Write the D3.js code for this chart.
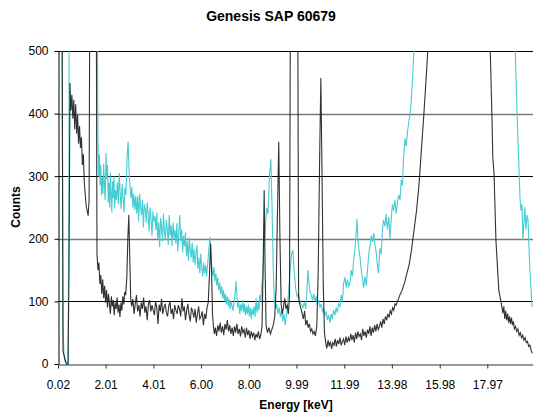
<!DOCTYPE html>
<html><head><meta charset="utf-8">
<script src="https://cdn.jsdelivr.net/npm/d3@7"></script>
<style>
body{margin:0;background:#fff}
text{font-family:"Liberation Sans",Arial,sans-serif}
</style>
</head><body>
<svg id="chart" width="533" height="412"></svg>
<script>
const chartTitle = "Genesis SAP 60679";
const xAxisTitle = "Energy [keV]";
const yAxisTitle = "Counts";
const xTickValues = [0.02, 2.01, 4.01, 6.00, 8.00, 9.99, 11.99, 13.98, 15.98, 17.97];
const xTickLabels = ["0.02", "2.01", "4.01", "6.00", "8.00", "9.99", "11.99", "13.98", "15.98", "17.97"];
const yTickValues = [0, 100, 200, 300, 400, 500];
const gridValues = [100, 200, 300, 400, 500];

const blackEnergy = [
0.02,0.14,0.19,0.23,0.27,0.31,0.36,0.40,0.44,0.48,
0.52,0.56,0.60,0.64,0.68,0.72,0.76,0.80,0.84,0.88,
0.92,0.96,1.00,1.04,1.08,1.12,1.16,1.20,1.24,1.28,
1.32,1.36,1.40,1.50,1.58,1.62,1.65,1.69,1.73,1.77,
1.81,1.85,1.89,1.93,1.97,2.01,2.05,2.09,2.13,2.17,
2.21,2.25,2.29,2.33,2.37,2.41,2.45,2.49,2.53,2.57,
2.61,2.65,2.69,2.73,2.77,2.81,2.85,2.90,2.94,2.98,
3.02,3.06,3.10,3.15,3.20,3.25,3.30,3.35,3.40,3.45,
3.50,3.55,3.60,3.65,3.70,3.75,3.80,3.85,3.90,3.95,
4.00,4.05,4.10,4.15,4.20,4.25,4.30,4.35,4.40,4.45,
4.50,4.55,4.60,4.65,4.70,4.75,4.80,4.85,4.90,4.95,
5.00,5.05,5.10,5.15,5.20,5.25,5.30,5.35,5.40,5.45,
5.50,5.55,5.60,5.65,5.70,5.75,5.80,5.85,5.90,5.95,
6.00,6.05,6.10,6.15,6.20,6.25,6.30,6.35,6.40,6.44,
6.48,6.52,6.56,6.60,6.65,6.70,6.75,6.80,6.85,6.90,
6.95,7.00,7.05,7.10,7.15,7.20,7.25,7.30,7.35,7.40,
7.45,7.50,7.55,7.60,7.65,7.70,7.75,7.80,7.85,7.90,
7.95,8.00,8.05,8.10,8.15,8.20,8.25,8.30,8.35,8.40,
8.45,8.50,8.55,8.60,8.64,8.68,8.72,8.78,8.84,8.90,
8.96,9.02,9.08,9.14,9.20,9.25,9.30,9.35,9.40,9.45,
9.50,9.55,9.60,9.65,9.70,9.76,9.90,10.02,10.08,10.13,
10.18,10.23,10.28,10.33,10.38,10.43,10.48,10.53,10.58,10.63,
10.68,10.73,10.78,10.84,10.90,10.96,11.01,11.06,11.11,11.16,
11.21,11.26,11.31,11.36,11.41,11.46,11.51,11.56,11.61,11.66,
11.71,11.76,11.81,11.86,11.91,11.96,12.01,12.06,12.11,12.16,
12.21,12.26,12.31,12.36,12.41,12.46,12.51,12.56,12.61,12.66,
12.71,12.76,12.81,12.86,12.91,12.96,13.01,13.06,13.11,13.16,
13.21,13.26,13.31,13.36,13.41,13.46,13.51,13.56,13.61,13.66,
13.71,13.76,13.81,13.86,13.91,13.96,14.01,14.06,14.11,14.16,
14.21,14.26,14.31,14.41,14.51,14.61,14.71,14.81,14.91,15.01,
15.11,15.21,15.31,15.41,15.51,15.70,16.00,17.00,17.90,18.08,
18.16,18.20,18.25,18.33,18.45,18.58,18.62,18.66,18.70,18.74,
18.78,18.82,18.86,18.90,18.94,18.98,19.02,19.06,19.10,19.15,
19.20,19.25,19.30,19.35,19.40,19.45,19.50,19.55,19.60,19.65,
19.70,19.75,19.80,19.85
];
const blackCounts = [
3000,2500,600,20,14,8,2,0,0,150,
449,405,430,392,422,375,415,368,398,352,
380,345,362,318,335,290,270,252,245,237,
262,700,2500,3500,2000,600,176,150,162,128,
142,112,135,105,125,98,118,90,112,96,
80,108,92,102,78,98,88,106,82,95,
75,98,85,108,95,115,110,140,200,238,
170,105,92,104,80,96,110,84,94,76,
98,88,106,82,92,70,96,102,84,94,
86,78,100,90,64,95,84,104,80,90,
96,82,76,92,100,80,88,72,94,86,
80,94,88,76,105,84,92,70,86,96,
78,68,90,84,74,88,66,80,92,72,
76,84,62,80,72,90,98,140,192,150,
80,60,48,58,45,62,52,66,50,60,
46,64,55,70,52,62,48,58,45,60,
50,64,48,56,44,60,50,55,42,58,
46,54,40,52,44,50,38,48,42,52,
40,46,60,160,278,150,62,50,58,48,
55,62,75,120,250,355,200,95,80,92,
105,88,95,80,110,900,3500,900,105,95,
88,80,72,85,62,70,58,64,52,56,
48,52,45,60,150,330,457,300,130,50,
35,25,38,28,36,24,34,30,40,28,
38,32,42,30,36,40,30,44,34,42,
36,48,38,46,34,50,40,52,44,48,
38,56,45,52,42,55,48,60,45,58,
50,62,52,64,55,60,68,58,72,64,
76,70,80,74,85,80,90,86,96,94,
100,104,110,118,130,145,160,185,215,245,
285,340,395,455,520,800,1500,3000,1000,520,
401,330,305,198,118,91,81,92,72,85,
70,80,66,76,64,74,62,68,56,60,
52,56,46,50,42,46,38,42,34,36,
28,30,22,17
];

const cyanEnergy = [
0.02,0.14,0.19,0.23,0.27,0.31,0.36,0.40,0.44,0.48,
0.52,1.00,1.58,1.64,1.69,1.72,1.75,1.78,1.81,1.84,
1.87,1.90,1.93,1.96,1.99,2.03,2.06,2.09,2.12,2.15,
2.18,2.21,2.24,2.27,2.30,2.33,2.36,2.39,2.42,2.46,
2.50,2.54,2.58,2.62,2.66,2.70,2.74,2.78,2.82,2.86,
2.91,2.95,2.99,3.03,3.07,3.11,3.15,3.19,3.23,3.27,
3.31,3.35,3.39,3.43,3.47,3.51,3.55,3.59,3.63,3.67,
3.71,3.75,3.79,3.83,3.87,3.91,3.95,3.99,4.03,4.07,
4.11,4.15,4.19,4.23,4.27,4.31,4.35,4.39,4.43,4.47,
4.51,4.55,4.59,4.63,4.67,4.71,4.75,4.79,4.83,4.87,
4.91,4.95,4.99,5.03,5.07,5.11,5.15,5.19,5.23,5.27,
5.31,5.35,5.39,5.43,5.47,5.51,5.55,5.59,5.63,5.67,
5.71,5.75,5.79,5.83,5.87,5.91,5.95,5.99,6.03,6.07,
6.11,6.15,6.19,6.23,6.28,6.33,6.38,6.42,6.46,6.50,
6.54,6.58,6.62,6.66,6.70,6.74,6.78,6.82,6.86,6.90,
6.94,6.98,7.02,7.06,7.10,7.14,7.18,7.22,7.26,7.30,
7.34,7.38,7.42,7.46,7.50,7.54,7.58,7.62,7.66,7.70,
7.74,7.78,7.82,7.86,7.90,7.94,7.98,8.02,8.06,8.10,
8.14,8.18,8.22,8.26,8.30,8.34,8.38,8.42,8.46,8.50,
8.54,8.58,8.62,8.68,8.74,8.80,8.86,8.92,8.97,9.02,
9.07,9.12,9.17,9.22,9.27,9.32,9.37,9.42,9.47,9.52,
9.57,9.62,9.67,9.72,9.78,9.84,9.90,9.96,10.02,10.08,
10.14,10.20,10.26,10.32,10.38,10.43,10.47,10.51,10.56,10.61,
10.66,10.71,10.76,10.81,10.86,10.91,10.97,11.02,11.07,11.12,
11.18,11.23,11.28,11.33,11.39,11.44,11.49,11.54,11.60,11.65,
11.70,11.75,11.81,11.86,11.91,11.96,12.02,12.07,12.12,12.17,
12.23,12.28,12.33,12.38,12.44,12.48,12.52,12.56,12.61,12.65,
12.70,12.75,12.80,12.86,12.91,12.96,13.01,13.07,13.12,13.17,
13.22,13.27,13.32,13.37,13.42,13.48,13.53,13.58,13.63,13.69,
13.74,13.79,13.85,13.90,13.95,14.00,14.05,14.11,14.16,14.21,
14.26,14.32,14.37,14.42,14.47,14.53,14.58,14.63,14.68,14.74,
14.79,14.86,14.90,15.00,16.00,18.00,19.00,19.10,19.17,19.25,
19.34,19.38,19.42,19.46,19.50,19.54,19.58,19.63,19.67,19.75,
19.84
];
const cyanCounts = [
3000,2500,500,60,15,5,0,0,0,300,
2500,3500,3000,800,358,300,335,285,318,270,
298,272,320,285,262,337,295,318,258,290,
250,305,270,242,292,265,300,248,278,262,
290,255,305,272,248,288,265,242,282,270,
330,355,310,283,265,283,250,272,246,268,
240,268,228,272,250,238,262,218,255,248,
226,258,240,212,250,232,205,244,228,236,
214,242,200,226,187,233,218,196,240,210,
198,230,215,190,238,205,222,188,226,200,
214,192,225,180,208,238,196,215,178,205,
188,210,172,196,165,202,180,170,194,162,
184,158,176,190,152,170,145,176,155,140,
162,145,158,140,160,185,203,175,150,140,
155,132,145,125,138,118,130,112,124,105,
118,100,112,95,108,92,104,88,100,92,
85,98,110,132,108,90,98,80,95,85,
102,82,96,78,92,80,95,76,90,72,
88,78,92,75,105,82,98,85,110,100,
125,140,180,210,250,240,300,327,250,150,
100,88,96,80,90,75,85,68,80,62,
78,95,120,150,175,182,145,120,108,112,
100,95,90,98,88,120,150,130,115,110,
102,112,100,108,95,102,90,96,84,88,
78,84,70,78,66,80,72,86,78,90,
82,96,92,110,100,128,139,122,135,124,
130,150,140,165,185,205,232,200,180,170,
150,135,122,140,125,150,175,190,205,195,
209,190,180,160,145,185,175,210,230,220,
240,215,235,200,230,255,245,262,240,258,
270,262,294,285,330,360,348,370,385,400,
420,470,500,800,2000,3500,1500,560,454,358,
262,245,255,198,225,251,215,238,232,150,
91
];

const svg = d3.select("#chart");
const x = d3.scaleLinear().domain([0.02, 19.88]).range([58, 533]);
const y = d3.scaleLinear().domain([0, 500]).range([364, 51]);

// title
svg.append("text").attr("x", 271).attr("y", 21).attr("text-anchor", "middle")
  .style("font-size", "14px").style("font-weight", "bold").text(chartTitle);

// gridlines
svg.append("g").selectAll("line").data(gridValues).join("line")
  .attr("x1", 58).attr("x2", 533)
  .attr("y1", d => Math.round(y(d)) + 0.5).attr("y2", d => Math.round(y(d)) + 0.5)
  .attr("stroke", d => (d === 200 || d === 400) ? "#7a7a7a" : "#000")
  .attr("stroke-width", d => (d === 200 || d === 400) ? 1.4 : 1);

// clip
svg.append("defs").append("clipPath").attr("id", "plotclip")
  .append("rect").attr("x", 58).attr("y", 51).attr("width", 475).attr("height", 314);

const line = d3.line().x(d => x(d[0])).y(d => y(d[1]));
const cyanData = cyanEnergy.map((e, i) => [e, cyanCounts[i]]);
const blackData = blackEnergy.map((e, i) => [e, blackCounts[i]]);

const plot = svg.append("g").attr("clip-path", "url(#plotclip)");
plot.append("path").datum(cyanData).attr("d", line)
  .attr("fill", "none").attr("stroke", "#45cdd2").attr("stroke-width", 1.1);
plot.append("path").datum(blackData).attr("d", line)
  .attr("fill", "none").attr("stroke", "#1c1c1c").attr("stroke-width", 1.1).attr("stroke-opacity", 0.9);

// axes
const yAxis = d3.axisLeft(y).tickValues(yTickValues).tickSize(4).tickSizeOuter(0).tickPadding(6);
const gy = svg.append("g").attr("transform", "translate(58.5,0)").call(yAxis);
gy.selectAll("text").style("font-size", "12px").attr("fill", "#000");
gy.selectAll("line,path").attr("stroke", "#000");

const xAxis = d3.axisBottom(x).tickValues(xTickValues).tickFormat((d, i) => xTickLabels[i])
  .tickSize(4).tickSizeOuter(0).tickPadding(12);
const gx = svg.append("g").attr("transform", "translate(0,364.5)").call(xAxis);
gx.selectAll("text").style("font-size", "12px").attr("fill", "#000");
gx.selectAll("line,path").attr("stroke", "#333");

// axis titles
svg.append("text").attr("x", 296).attr("y", 409).attr("text-anchor", "middle")
  .style("font-size", "12px").style("font-weight", "bold").text(xAxisTitle);
svg.append("text").attr("transform", "translate(20,207) rotate(-90)").attr("text-anchor", "middle")
  .style("font-size", "12px").style("font-weight", "bold").text(yAxisTitle);
</script>
</body></html>
